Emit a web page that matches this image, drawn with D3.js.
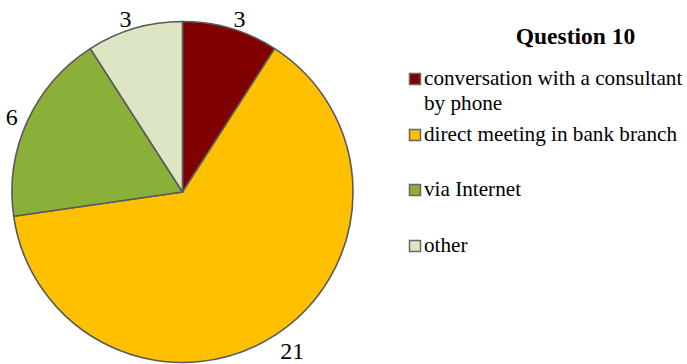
<!DOCTYPE html>
<html>
<head>
<meta charset="utf-8">
<script src="https://cdn.jsdelivr.net/npm/d3@7"></script>
<style>
  html, body { margin: 0; padding: 0; background: #fff; }
  svg { display: block; }
  text { font-family: "Liberation Serif", "Times New Roman", serif; }
</style>
</head>
<body>
<svg id="chart" width="687" height="364"></svg>
<script>
// Survey answers for Question 10
const title = "Question 10";
const categories = [
  "conversation with a consultant by phone",
  "direct meeting in bank branch",
  "via Internet",
  "other"
];
const legendLines = [
  ["conversation with a consultant", "by phone"],
  ["direct meeting in bank branch"],
  ["via Internet"],
  ["other"]
];
const values = [3, 21, 6, 3];
const colors = ["#800000", "#FFC000", "#8AB03A", "#DCE6C4"];

const svg = d3.select("#chart");
const cx = 182.5, cy = 192, radius = 170.5;

const pie = d3.pie().sort(null).value(d => d)(values);
const arc = d3.arc().innerRadius(0).outerRadius(radius);

const g = svg.append("g").attr("transform", `translate(${cx},${cy})`);

g.selectAll("path.slice")
  .data(pie)
  .join("path")
  .attr("class", "slice")
  .attr("d", arc)
  .attr("fill", (d, i) => colors[i])
  .attr("stroke", "#595959")
  .attr("stroke-width", 1.6)
  .attr("stroke-linejoin", "round");

// Value labels placed just outside each slice's outer edge
const labelFont = 24;
g.selectAll("text.value")
  .data(pie)
  .join("text")
  .attr("class", "value")
  .attr("font-size", labelFont)
  .attr("fill", "#000")
  .attr("text-anchor", "middle")
  .text(d => d.data)
  .each(function(d) {
    const a = (d.startAngle + d.endAngle) / 2;
    const sx = Math.sin(a), sy = -Math.cos(a);
    const w = this.getComputedTextLength();
    const inkH = labelFont * 0.68;
    const r = radius + 10.5;
    const x = sx * r + Math.sign(sx) * w / 2;
    const y = sy * r + Math.max(0, sy) * inkH * 0.5;
    d3.select(this).attr("x", x).attr("y", y + inkH / 2);
  });

// Title and legend
svg.append("text")
  .attr("x", 575.5)
  .attr("y", 44)
  .attr("text-anchor", "middle")
  .attr("font-size", 23.5)
  .attr("font-weight", "bold")
  .text(title);

const legendBase = [85, 141, 196, 252];
const legend = svg.append("g");
legendLines.forEach((lines, i) => {
  const base = legendBase[i];
  legend.append("rect")
    .attr("x", 409.5)
    .attr("y", base - 11.5)
    .attr("width", 11)
    .attr("height", 11)
    .attr("fill", colors[i])
    .attr("stroke", "#666")
    .attr("stroke-width", 1.5);
  const t = legend.append("text")
    .attr("x", 424)
    .attr("y", base)
    .attr("font-size", 21.2)
    .attr("fill", "#000");
  lines.forEach((ln, j) => {
    t.append("tspan").attr("x", 424).attr("dy", j === 0 ? 0 : 25).text(ln);
  });
});
</script>
</body>
</html>
